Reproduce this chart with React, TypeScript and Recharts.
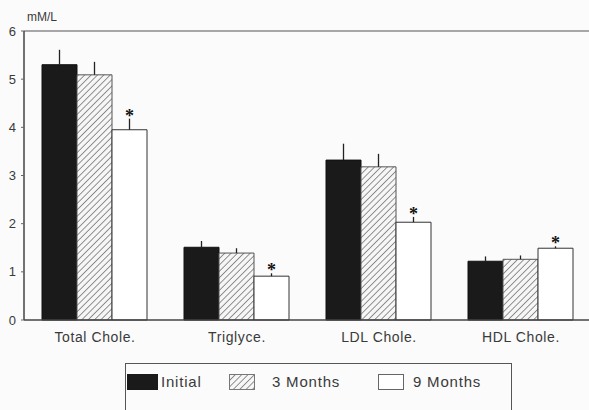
import React from 'react';
import { Bar, BarChart, ErrorBar, LabelList, Legend, ReferenceLine, XAxis, YAxis } from 'recharts';

const categories = ['Total Chole.', 'Triglyce.', 'LDL Chole.', 'HDL Chole.'];
const initial = [5.3, 1.51, 3.32, 1.22];
const initialErr = [0.31, 0.13, 0.34, 0.1];
const threeMonths = [5.09, 1.39, 3.18, 1.26];
const threeMonthsErr = [0.27, 0.1, 0.27, 0.08];
const nineMonths = [3.95, 0.91, 2.03, 1.49];
const nineMonthsErr = [0.23, 0.06, 0.11, 0.04];
const yTicks = [0, 1, 2, 3, 4, 5, 6];

const data = categories.map((name, i) => ({
  name,
  initial: initial[i],
  initialErr: [0, initialErr[i]],
  threeMonths: threeMonths[i],
  threeMonthsErr: [0, threeMonthsErr[i]],
  nineMonths: nineMonths[i],
  nineMonthsErr: [0, nineMonthsErr[i]],
}));

const TOP = 31;
const PLOT_H = 289;
const X_AXIS_H = 30;
const pxPerUnit = PLOT_H / 6;
const textColor = '#3a3a3a';
const font = 'Liberation Sans, Arial, sans-serif';

// asterisk sits just above each 9-month error bar
const Star = (props: any) => {
  const { x, y, width, index } = props;
  const errTop = y - nineMonthsErr[index] * pxPerUnit;
  return (
    <text x={x + width / 2} y={errTop + 3} textAnchor="middle" fontSize={18} fontWeight="bold" fill="#111">
      *
    </text>
  );
};

const renderLegend = () => (
  <div style={{ position: 'relative', width: 387, height: 60, border: '1px solid #555', borderBottom: 'none', boxSizing: 'border-box', fontFamily: font, fontSize: 15, letterSpacing: 0.8, color: textColor }}>
    <div style={{ position: 'absolute', left: 1, top: 10, width: 31, height: 16, background: '#1a1a1a' }} />
    <span style={{ position: 'absolute', left: 35, top: 9 }}>Initial</span>
    <svg style={{ position: 'absolute', left: 103, top: 10 }} width={26} height={16}>
      <rect x={0.5} y={0.5} width={25} height={15} fill="url(#hatch)" stroke="#777" />
    </svg>
    <span style={{ position: 'absolute', left: 146, top: 9 }}>3 Months</span>
    <div style={{ position: 'absolute', left: 252, top: 10, width: 26, height: 16, border: '1px solid #666', boxSizing: 'border-box', background: '#fff' }} />
    <span style={{ position: 'absolute', left: 287, top: 9 }}>9 Months</span>
  </div>
);

export default function App() {
  return (
    <div style={{ position: 'absolute', left: 0, top: 0, width: 589, height: 410, overflow: 'hidden', background: '#fbfbfb' }}>
      <BarChart
        width={600}
        height={410}
        data={data}
        margin={{ top: TOP, right: 8, bottom: 410 - TOP - PLOT_H - X_AXIS_H, left: 0 }}
        barCategoryGap={18}
        barGap={0}
      >
        <defs>
          <pattern id="hatch" patternUnits="userSpaceOnUse" width={4.5} height={4.5} patternTransform="rotate(45)">
            <rect width={4.5} height={4.5} fill="#f6f6f6" />
            <line x1={0} y1={0} x2={0} y2={4.5} stroke="#6f6f6f" strokeWidth={1.5} />
          </pattern>
        </defs>
        <text x={27} y={21} fontSize={12} fill={textColor} fontFamily={font}>
          mM/L
        </text>
        <XAxis
          dataKey="name"
          height={X_AXIS_H}
          tickLine={false}
          axisLine={{ stroke: '#444', strokeWidth: 1.5 }}
          tick={{ fill: textColor, fontSize: 14, letterSpacing: 0.6, fontFamily: font }}
          tickMargin={6}
        />
        <YAxis
          width={24}
          domain={[0, 6]}
          ticks={yTicks}
          interval={0}
          tickSize={3}
          tickLine={{ stroke: '#666' }}
          axisLine={{ stroke: '#444', strokeWidth: 1.5 }}
          tick={{ fill: textColor, fontSize: 13, fontFamily: font }}
          tickMargin={5}
        />
        <ReferenceLine y={6} stroke="#555" strokeWidth={1.2} />
        <Legend
          layout="horizontal"
          verticalAlign="middle"
          align="center"
          content={renderLegend}
          wrapperStyle={{ position: 'absolute', left: 125, top: 363, width: 387, height: 60 }}
        />
        <Bar dataKey="initial" name="Initial" fill="#1a1a1a" stroke="#111" isAnimationActive={false}>
          <ErrorBar dataKey="initialErr" width={0} stroke="#222" strokeWidth={1.3} direction="y" />
        </Bar>
        <Bar dataKey="threeMonths" name="3 Months" fill="url(#hatch)" stroke="#555" isAnimationActive={false}>
          <ErrorBar dataKey="threeMonthsErr" width={0} stroke="#222" strokeWidth={1.3} direction="y" />
        </Bar>
        <Bar dataKey="nineMonths" name="9 Months" fill="#ffffff" stroke="#333" isAnimationActive={false}>
          <ErrorBar dataKey="nineMonthsErr" width={0} stroke="#222" strokeWidth={1.3} direction="y" />
          <LabelList dataKey="nineMonths" content={Star} />
        </Bar>
      </BarChart>
    </div>
  );
}
